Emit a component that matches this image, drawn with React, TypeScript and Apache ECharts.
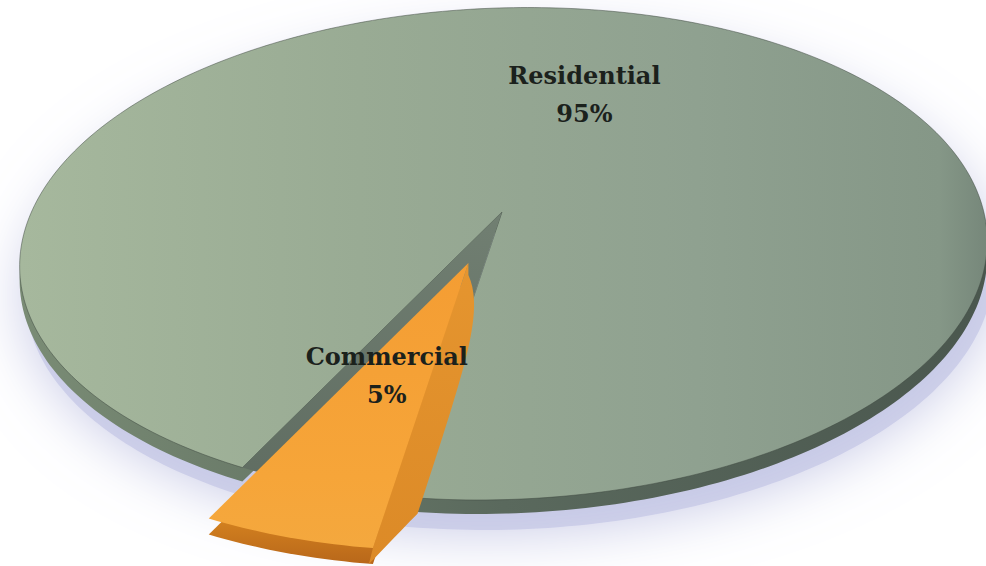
import React, { useEffect, useRef } from "react";
import * as echarts from "echarts";

// ---- data ----
const categories = ["Residential", "Commercial"];
const values = [95, 5];
const valueLabels = ["95%", "5%"];

// ---- projection of the pie disk (perspective view) ----
const START_ANGLE = 259.4; // degrees, disk coordinates (270 = toward viewer)
const CX = 502;
const CY = 212;
const KX = 477;
const KY = 238.7;
const E = 0.17;
const TILT = (-2 * Math.PI) / 180;
const SIDE_T = 14;
const EXPLODE_PX = 61;
const LABEL_R = 0.5;
const LABEL_NUDGE = [
  [12, -11],
  [1, -13],
];

function project(px: number, py: number): number[] {
  const w = 1 + E * py;
  const dx = (KX * px) / w;
  const dy = (-KY * py) / w;
  const c = Math.cos(TILT);
  const s = Math.sin(TILT);
  return [CX + dx * c - dy * s, CY + dx * s + dy * c];
}

function polar(angleDeg: number, r: number): number[] {
  const a = (angleDeg * Math.PI) / 180;
  return project(r * Math.cos(a), r * Math.sin(a));
}

function sectorPts(a1: number, a2: number, ox: number, oy: number): number[][] {
  const pts: number[][] = [project(0, 0)];
  const n = Math.max(4, Math.ceil(Math.abs(a2 - a1)));
  for (let i = 0; i <= n; i++) {
    pts.push(polar(a1 + ((a2 - a1) * i) / n, 1));
  }
  return pts.map((p) => [p[0] + ox, p[1] + oy]);
}

export default function App() {
  const ref = useRef<HTMLDivElement>(null);

  useEffect(() => {
    if (!ref.current) return;
    const chart = echarts.init(ref.current, null, { renderer: "svg" });
    const total = values.reduce((a, b) => a + b, 0);
    const starts: number[] = [];
    let acc = START_ANGLE;
    values.forEach((v) => {
      starts.push(acc);
      acc += (v / total) * 360;
    });
    const explodeIndex = values.indexOf(Math.min(...values));
    const font = '"DejaVu Serif", "Liberation Serif", serif';

    const labelEl = (idx: number, x: number, y: number) => ({
      type: "text",
      x: x + LABEL_NUDGE[idx][0],
      y: y + LABEL_NUDGE[idx][1],
      style: {
        text: categories[idx] + "\n" + valueLabels[idx],
        fill: "#1b211c",
        fontFamily: font,
        fontWeight: "bold",
        fontSize: 24,
        lineHeight: 38,
        align: "center",
        verticalAlign: "middle",
      },
    });

    const renderItem = (params: any, api: any) => {
      const idx = params.dataIndex;
      const v = api.value(0);
      const a1 = starts[idx];
      const a2 = a1 + (v / total) * 360;
      const am = (a1 + a2) / 2;
      const apex = project(0, 0);
      const children: any[] = [];

      if (idx !== explodeIndex) {
        if (idx === 0) {
          // soft drop shadow under the whole pie
          children.push({
            type: "polygon",
            shape: { points: sectorPts(0, 360, 6, 30) },
            style: {
              fill: "rgba(196,199,230,0.75)",
              shadowBlur: 60,
              shadowColor: "rgba(176,180,220,1)",
            },
            silent: true,
          });
        }
        children.push({
          type: "polygon",
          shape: { points: sectorPts(a1, a2, 0, SIDE_T) },
          style: {
            fill: new echarts.graphic.LinearGradient(0, 0, 1, 0, [
              { offset: 0, color: "#7a8c75" },
              { offset: 0.5, color: "#5a695d" },
              { offset: 1, color: "#4a574e" },
            ]),
          },
        });
        children.push({
          type: "polygon",
          shape: { points: sectorPts(a1, a2, 0, 0) },
          style: {
            fill: new echarts.graphic.LinearGradient(0, 0, 1, 0, [
              { offset: 0, color: "#a6b89d" },
              { offset: 0.35, color: "#99ab94" },
              { offset: 0.7, color: "#8fa190" },
              { offset: 0.95, color: "#859787" },
              { offset: 1, color: "#76877a" },
            ]),
            stroke: "rgba(62,72,64,0.5)",
            lineWidth: 1,
          },
        });
        const lp = polar(am, LABEL_R);
        children.push(labelEl(idx, lp[0], lp[1]));
      } else {
        // hole left in the pie by the pulled-out slice
        children.push({
          type: "polygon",
          shape: { points: sectorPts(a1, a2, 0, 0) },
          style: {
            fill: new echarts.graphic.LinearGradient(0, 0, 0, 1, [
              { offset: 0, color: "#717f72" },
              { offset: 1, color: "#5f6c61" },
            ]),
          },
        });
        const rim = polar(am, 1);
        const ddx = rim[0] - apex[0];
        const ddy = rim[1] - apex[1];
        const len = Math.hypot(ddx, ddy);
        const ox = (ddx / len) * EXPLODE_PX;
        const oy = (ddy / len) * EXPLODE_PX;

        // front side band
        children.push({
          type: "polygon",
          shape: { points: sectorPts(a1, a2, ox, oy + 16) },
          style: {
            fill: new echarts.graphic.LinearGradient(0, 0, 0, 1, [
              { offset: 0, color: "#e3902b" },
              { offset: 0.85, color: "#d2801f" },
              { offset: 1, color: "#b8671a" },
            ]),
          },
        });
        // radial wall on the right edge
        const top: number[][] = [];
        const bottom: number[][] = [];
        const n = 40;
        for (let i = 0; i <= n; i++) {
          const s = i / n;
          const p = polar(a2, s);
          const px = p[0] + ox;
          const py = p[1] + oy;
          top.push([px, py]);
          const base = 28 * (1 - Math.exp(-s / 0.15));
          const xs =
            s <= 0.85 ? base : base * (1 - (s - 0.85) / 0.15) - 4 * ((s - 0.85) / 0.15);
          bottom.push([px + xs, py + 12 + 4 * s]);
        }
        children.push({
          type: "polygon",
          shape: { points: top.concat(bottom.reverse()) },
          style: {
            fill: new echarts.graphic.LinearGradient(0, 0, 0, 1, [
              { offset: 0, color: "#e5952f" },
              { offset: 1, color: "#dc8a27" },
            ]),
          },
        });
        // top face
        children.push({
          type: "polygon",
          shape: { points: sectorPts(a1, a2, ox, oy) },
          style: {
            fill: new echarts.graphic.LinearGradient(0, 0, 0, 1, [
              { offset: 0, color: "#f49d33" },
              { offset: 0.75, color: "#f6a539" },
              { offset: 1, color: "#f4a83e" },
            ]),
          },
        });
        const lp = polar(am, LABEL_R);
        children.push(labelEl(idx, lp[0] + ox, lp[1] + oy));
      }
      return { type: "group", children };
    };

    chart.setOption({
      animation: false,
      backgroundColor: "#ffffff",
      series: [
        {
          type: "custom",
          coordinateSystem: "none",
          data: values.map((v, i) => ({ name: categories[i], value: [v, i] })),
          renderItem,
        },
      ],
    });
    return () => chart.dispose();
  }, []);

  return (
    <div
      ref={ref}
      style={{ position: "fixed", left: 0, top: 0, width: 986, height: 566 }}
    />
  );
}
